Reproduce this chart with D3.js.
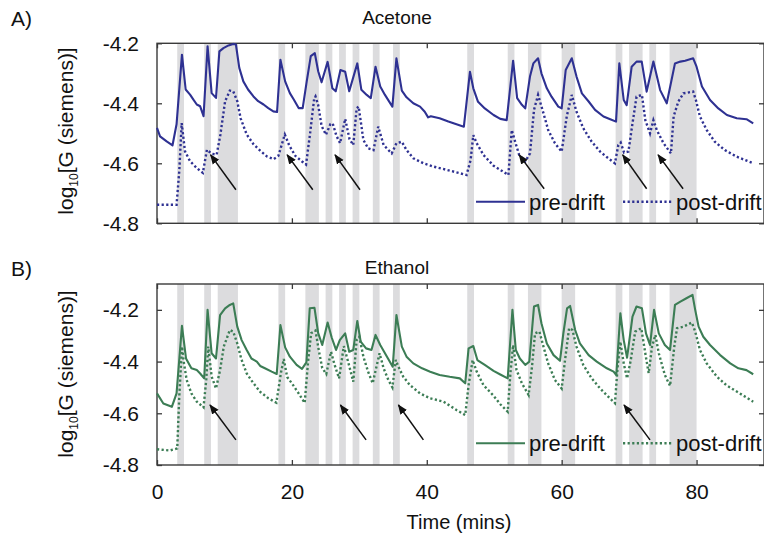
<!DOCTYPE html>
<html><head><meta charset="utf-8">
<script src="https://cdn.jsdelivr.net/npm/d3@7"></script>
<style>html,body{margin:0;padding:0;background:#fff;}svg{display:block;font-family:"Liberation Sans",Arial,sans-serif;}</style>
</head><body><svg id="c" width="764" height="537"></svg>
<script>
// ---------- data ----------
const bands = [[3,4],[7,8],[9,12],[18,19],[22,24],[25,26],[27,28],[29,30],[32,33],[35,36],[46,47],[52,53],[55,57],[60,62],[68,69],[70,72],[73,74],[76,80]];
const xTicks = [0,20,40,60,80];
const yTicks = [-4.8,-4.6,-4.4,-4.2];
const yTickLabels = ["-4.8","-4.6","-4.4","-4.2"];
const titles = ["Acetone","Ethanol"];
const panelLabels = ["A)","B)"];
const legendLabels = ["pre-drift","post-drift"];

const acetonePre = [[0,-4.482],[0.45,-4.51],[1.43,-4.527],[2.3,-4.54],[2.9,-4.47],[3.7,-4.238],[4.25,-4.354],[4.9,-4.371],[5.4,-4.388],[5.9,-4.404],[6.4,-4.41],[6.9,-4.443],[7.5,-4.21],[8.1,-4.366],[8.75,-4.382],[9.25,-4.227],[9.85,-4.216],[10.6,-4.207],[11.3,-4.202],[11.7,-4.204],[12.2,-4.282],[12.8,-4.327],[13.5,-4.354],[14.3,-4.377],[15.0,-4.393],[15.8,-4.404],[16.5,-4.416],[17.25,-4.427],[17.8,-4.429],[18.3,-4.255],[19.0,-4.327],[19.7,-4.366],[20.3,-4.388],[21.0,-4.416],[21.6,-4.416],[22.2,-4.327],[22.8,-4.243],[23.4,-4.233],[23.9,-4.293],[24.4,-4.33],[25.3,-4.262],[26.0,-4.35],[26.5,-4.36],[27.2,-4.289],[27.9,-4.295],[28.5,-4.36],[29.7,-4.267],[30.3,-4.355],[31.1,-4.372],[31.7,-4.383],[32.4,-4.278],[33.1,-4.344],[33.8,-4.372],[34.9,-4.411],[35.5,-4.25],[36.3,-4.358],[37.0,-4.38],[38.0,-4.4],[39.0,-4.411],[39.7,-4.428],[40.2,-4.447],[40.6,-4.443],[41.9,-4.45],[43.2,-4.461],[44.4,-4.47],[45.5,-4.478],[46.4,-4.295],[46.9,-4.35],[47.6,-4.395],[48.6,-4.417],[49.9,-4.439],[50.9,-4.452],[51.85,-4.456],[52.8,-4.258],[53.4,-4.383],[54.1,-4.405],[54.6,-4.417],[55.3,-4.311],[55.8,-4.267],[56.5,-4.25],[57.0,-4.3],[57.8,-4.35],[58.5,-4.378],[59.5,-4.411],[60.0,-4.417],[60.6,-4.289],[61.5,-4.25],[62.2,-4.311],[63.0,-4.367],[64.0,-4.394],[64.95,-4.422],[66.2,-4.444],[67.2,-4.453],[68.06,-4.461],[68.55,-4.267],[69.2,-4.389],[69.64,-4.406],[70.38,-4.278],[71.1,-4.261],[71.87,-4.261],[72.6,-4.361],[73.6,-4.261],[74.6,-4.356],[75.58,-4.4],[76.8,-4.267],[77.6,-4.261],[78.3,-4.258],[79.5,-4.25],[80.0,-4.278],[80.8,-4.344],[82.0,-4.389],[83.23,-4.417],[84.5,-4.439],[85.96,-4.45],[87.4,-4.453],[88.4,-4.467]];

const acetonePost = [[0,-4.738],[2.9,-4.738],[3.3,-4.627],[3.66,-4.466],[4.15,-4.56],[4.9,-4.593],[5.9,-4.616],[6.8,-4.632],[7.4,-4.555],[8.1,-4.568],[8.85,-4.571],[9.4,-4.504],[10.1,-4.393],[10.8,-4.358],[11.3,-4.36],[11.9,-4.393],[12.4,-4.45],[13.3,-4.504],[14.3,-4.536],[15.3,-4.558],[16.3,-4.577],[17.3,-4.586],[18.0,-4.575],[18.95,-4.504],[19.6,-4.54],[20.5,-4.575],[21.45,-4.593],[22.1,-4.604],[22.7,-4.5],[23.3,-4.385],[23.5,-4.377],[23.9,-4.406],[24.4,-4.475],[25.05,-4.505],[25.7,-4.47],[26.05,-4.467],[26.6,-4.508],[27.15,-4.533],[27.9,-4.452],[28.55,-4.52],[29.1,-4.539],[29.6,-4.417],[29.9,-4.411],[30.6,-4.522],[31.3,-4.55],[32.1,-4.556],[32.8,-4.478],[33.6,-4.539],[34.8,-4.567],[35.5,-4.533],[36.3,-4.528],[37.0,-4.556],[38.0,-4.583],[39.5,-4.6],[41.0,-4.611],[43.0,-4.622],[44.9,-4.633],[45.9,-4.639],[46.5,-4.589],[46.9,-4.506],[47.4,-4.533],[48.4,-4.572],[49.9,-4.608],[50.9,-4.622],[52.1,-4.639],[52.6,-4.489],[53.1,-4.528],[53.7,-4.572],[54.6,-4.594],[55.3,-4.567],[55.9,-4.422],[56.5,-4.372],[57.3,-4.433],[58.0,-4.489],[59.0,-4.533],[60.0,-4.561],[60.75,-4.444],[61.5,-4.372],[62.2,-4.428],[63.2,-4.483],[64.45,-4.528],[65.7,-4.561],[66.9,-4.583],[67.9,-4.6],[68.4,-4.539],[68.75,-4.531],[69.25,-4.564],[69.9,-4.561],[70.5,-4.467],[71.1,-4.378],[71.9,-4.372],[72.4,-4.456],[73.1,-4.5],[73.6,-4.456],[74.1,-4.489],[75.1,-4.533],[76.2,-4.567],[76.6,-4.444],[77.3,-4.394],[78.05,-4.367],[79.5,-4.361],[79.9,-4.389],[80.5,-4.444],[81.5,-4.489],[82.7,-4.528],[84.2,-4.556],[85.96,-4.578],[88.4,-4.6]];

const ethanolPre = [[0,-4.523],[0.94,-4.562],[2.2,-4.575],[2.9,-4.523],[3.7,-4.262],[4.3,-4.388],[5.1,-4.426],[5.9,-4.433],[6.4,-4.446],[7.0,-4.465],[7.5,-4.2],[8.1,-4.368],[8.75,-4.388],[9.35,-4.22],[10.1,-4.194],[10.8,-4.181],[11.3,-4.175],[11.9,-4.265],[12.55,-4.317],[13.3,-4.355],[14.0,-4.388],[14.8,-4.4],[15.3,-4.417],[16.0,-4.426],[17.0,-4.439],[17.75,-4.448],[18.3,-4.259],[19.0,-4.345],[19.7,-4.381],[20.7,-4.413],[21.5,-4.428],[22.15,-4.403],[22.65,-4.194],[23.35,-4.192],[23.9,-4.29],[24.5,-4.336],[25.3,-4.249],[25.9,-4.307],[26.55,-4.355],[27.1,-4.317],[27.9,-4.291],[28.5,-4.362],[29.1,-4.355],[29.7,-4.243],[30.2,-4.323],[31.0,-4.349],[31.8,-4.355],[32.4,-4.297],[33.1,-4.336],[34.1,-4.381],[34.95,-4.42],[35.5,-4.22],[36.3,-4.342],[37.0,-4.381],[38.0,-4.407],[39.3,-4.426],[40.5,-4.439],[41.9,-4.452],[43.4,-4.459],[44.9,-4.465],[45.7,-4.484],[46.2,-4.349],[46.9,-4.34],[47.5,-4.394],[48.6,-4.413],[49.9,-4.436],[50.9,-4.45],[52.0,-4.465],[52.7,-4.2],[53.2,-4.355],[53.8,-4.388],[54.6,-4.413],[55.2,-4.4],[55.9,-4.187],[56.5,-4.181],[57.0,-4.252],[57.8,-4.33],[58.8,-4.375],[59.75,-4.397],[60.25,-4.291],[60.8,-4.194],[61.25,-4.185],[62.0,-4.278],[62.7,-4.33],[64.0,-4.375],[65.2,-4.4],[66.7,-4.426],[67.7,-4.439],[68.1,-4.452],[68.7,-4.213],[69.2,-4.317],[69.7,-4.385],[70.5,-4.226],[71.1,-4.187],[71.9,-4.194],[72.5,-4.291],[73.1,-4.336],[73.7,-4.2],[74.4,-4.291],[75.3,-4.336],[76.07,-4.355],[76.8,-4.181],[77.6,-4.168],[78.5,-4.155],[79.4,-4.142],[79.8,-4.2],[80.3,-4.265],[81.0,-4.304],[82.0,-4.336],[83.5,-4.375],[85.0,-4.407],[86.2,-4.426],[87.4,-4.433],[88.4,-4.449]];

const ethanolPost = [[0,-4.739],[1.9,-4.744],[3.0,-4.736],[3.3,-4.536],[3.7,-4.342],[4.0,-4.407],[4.4,-4.471],[5.1,-4.523],[5.9,-4.555],[6.9,-4.577],[7.3,-4.471],[7.6,-4.342],[8.1,-4.458],[8.75,-4.504],[9.35,-4.433],[9.9,-4.342],[10.8,-4.278],[11.3,-4.284],[11.9,-4.33],[12.5,-4.39],[13.3,-4.446],[14.3,-4.484],[15.3,-4.517],[16.5,-4.542],[17.7,-4.559],[18.4,-4.44],[18.8,-4.39],[19.3,-4.46],[20.0,-4.484],[21.0,-4.523],[21.9,-4.56],[22.4,-4.4],[22.85,-4.29],[23.5,-4.28],[24.0,-4.358],[24.5,-4.425],[25.1,-4.448],[25.8,-4.362],[26.3,-4.41],[27.0,-4.465],[27.7,-4.34],[28.4,-4.407],[29.1,-4.478],[29.6,-4.317],[30.0,-4.304],[30.6,-4.381],[31.3,-4.439],[31.98,-4.484],[32.6,-4.413],[33.0,-4.368],[33.6,-4.426],[34.3,-4.471],[34.9,-4.5],[35.4,-4.394],[35.8,-4.42],[36.5,-4.458],[37.5,-4.491],[39.0,-4.523],[40.5,-4.542],[42.5,-4.555],[44.4,-4.587],[45.7,-4.607],[46.2,-4.491],[46.8,-4.394],[47.4,-4.439],[48.4,-4.491],[49.9,-4.532],[50.9,-4.565],[52.0,-4.594],[52.4,-4.445],[52.8,-4.336],[53.3,-4.432],[54.1,-4.484],[55.1,-4.529],[55.6,-4.42],[56.05,-4.291],[56.7,-4.284],[57.3,-4.342],[58.0,-4.407],[59.0,-4.471],[60.0,-4.504],[60.5,-4.394],[61.1,-4.271],[61.6,-4.278],[62.2,-4.342],[63.2,-4.413],[64.45,-4.465],[65.7,-4.504],[66.9,-4.536],[67.9,-4.561],[68.3,-4.42],[68.7,-4.323],[69.2,-4.407],[69.7,-4.465],[70.25,-4.394],[70.9,-4.284],[71.8,-4.271],[72.4,-4.368],[72.9,-4.445],[73.4,-4.342],[73.9,-4.297],[74.4,-4.368],[75.3,-4.452],[76.07,-4.494],[76.7,-4.342],[77.1,-4.271],[78.05,-4.265],[79.3,-4.249],[79.8,-4.284],[80.5,-4.355],[81.5,-4.407],[83.0,-4.458],[84.4,-4.491],[86.4,-4.523],[88.4,-4.555]];

// arrows: [tip time, tip value, tail time, tail value]
const acetoneArrows = [[7.95,-4.572,11.7,-4.688],[19.3,-4.572,23.1,-4.688],[26.4,-4.572,30.1,-4.688],[53.7,-4.572,57.4,-4.685],[69.05,-4.572,72.6,-4.685],[74.3,-4.572,78.0,-4.685]];
const ethanolArrows = [[7.86,-4.568,11.7,-4.703],[27.2,-4.568,31.0,-4.703],[35.8,-4.568,39.5,-4.703],[69.25,-4.568,73.1,-4.703]];

// ---------- drawing ----------
const svg = d3.select("#c");
const X0 = 157, X1 = 764;
const x = d3.scaleLinear().domain([0,90]).range([X0,X1]);
const panels = [
  {pre: acetonePre, post: acetonePost, arrows: acetoneArrows, color:"#2e3192",
   y: d3.scaleLinear().domain([-4.8,-4.2]).range([223.3,43.3]), title: titles[0], label: panelLabels[0],
   titleY: 24, legendY: 201.7, labelCY: 131},
  {pre: ethanolPre, post: ethanolPost, arrows: ethanolArrows, color:"#3c7d55",
   y: d3.scaleLinear().domain([-4.8,-4.1]).range([465,284]), title: titles[1], label: panelLabels[1],
   titleY: 274, legendY: 443.3, labelCY: 374}
];

const defs = svg.append("defs");
defs.append("marker").attr("id","ah").attr("viewBox","0 0 10 10").attr("refX",9).attr("refY",5)
  .attr("markerWidth",10).attr("markerHeight",10).attr("markerUnits","userSpaceOnUse").attr("orient","auto")
  .append("path").attr("d","M0,1 L10,5 L0,9 Z").attr("fill","#111");

const frameColor = "#3a3a3a";

panels.forEach((p, i) => {
  const g = svg.append("g");
  const y = p.y;
  const [yb, yt] = y.range();
  // bands
  g.selectAll("rect.band").data(bands).join("rect").attr("class","band")
    .attr("x", d => x(d[0])).attr("width", d => x(d[1]) - x(d[0]))
    .attr("y", yt).attr("height", yb - yt).attr("fill","#dcdcde");

  // axes (inward ticks)
  const left = g.append("g").attr("transform",`translate(${X0},0)`)
    .call(d3.axisLeft(y).tickValues(yTicks).tickFormat((d,k)=>yTickLabels[k]).tickSizeInner(-5).tickSizeOuter(0).tickPadding(18));
  const right = g.append("g").attr("transform",`translate(${X1},0)`)
    .call(d3.axisRight(y).tickValues(yTicks).tickFormat("").tickSizeInner(-5).tickSizeOuter(0));
  const bottom = g.append("g").attr("transform",`translate(0,${yb})`)
    .call(d3.axisBottom(x).tickValues(xTicks).tickFormat(i===1 ? d3.format("d") : "").tickSizeInner(-5).tickSizeOuter(0).tickPadding(19));
  const top = g.append("g").attr("transform",`translate(0,${yt})`)
    .call(d3.axisTop(x).tickValues(xTicks).tickFormat("").tickSizeInner(-5).tickSizeOuter(0));
  [left,right,bottom,top].forEach(a => {
    a.select(".domain").remove();
    a.selectAll(".tick line").attr("stroke",frameColor).attr("stroke-width",1.3);
    a.selectAll("text").attr("font-size",21).attr("fill","#111").attr("font-family","Liberation Sans, Arial, sans-serif");
  });
  g.append("rect").attr("x",X0).attr("y",yt).attr("width",X1-X0).attr("height",yb-yt)
    .attr("fill","none").attr("stroke",frameColor).attr("stroke-width",1.4);

  const line = d3.line().x(d => x(d[0])).y(d => y(d[1]));
  g.append("path").datum(p.post).attr("d",line).attr("fill","none").attr("stroke",p.color)
    .attr("stroke-width",2.4).attr("stroke-dasharray","2.2,2.4");
  g.append("path").datum(p.pre).attr("d",line).attr("fill","none").attr("stroke",p.color)
    .attr("stroke-width",2.1).attr("stroke-linejoin","round");

  // arrows
  g.selectAll("line.arrow").data(p.arrows).join("line").attr("class","arrow")
    .attr("x1", d => x(d[2])).attr("y1", d => y(d[3]))
    .attr("x2", d => x(d[0])).attr("y2", d => y(d[1]))
    .attr("stroke","#111").attr("stroke-width",1.5).attr("marker-end","url(#ah)");

  // legend
  const ly = p.legendY;
  g.append("line").attr("x1",476).attr("x2",525).attr("y1",ly).attr("y2",ly).attr("stroke",p.color).attr("stroke-width",2.1);
  g.append("text").attr("x",529).attr("y",ly+8).attr("font-size",22).attr("fill","#111").text(legendLabels[0]);
  g.append("line").attr("x1",623).attr("x2",672).attr("y1",ly).attr("y2",ly).attr("stroke",p.color)
    .attr("stroke-width",2.4).attr("stroke-dasharray","2.2,2.4");
  g.append("text").attr("x",676).attr("y",ly+8).attr("font-size",22).attr("fill","#111").text(legendLabels[1]);

  // titles
  g.append("text").attr("x",397).attr("y",p.titleY).attr("text-anchor","middle").attr("font-size",19).attr("fill","#111").text(p.title);
  g.append("text").attr("x",11).attr("y",p.titleY+2).attr("font-size",21).attr("fill","#111").text(p.label);

  // y label
  const yl = g.append("text").attr("transform",`translate(73,${p.labelCY}) rotate(-90)`)
    .attr("text-anchor","middle").attr("font-size",21).attr("fill","#111");
  yl.append("tspan").text("log");
  yl.append("tspan").attr("font-size",12).attr("dy",5).text("10");
  yl.append("tspan").attr("dy",-5).text("[G (siemens)]");
});

svg.append("text").attr("x",459).attr("y",529).attr("text-anchor","middle").attr("font-size",20).attr("fill","#111").text("Time (mins)");
</script></body></html>
